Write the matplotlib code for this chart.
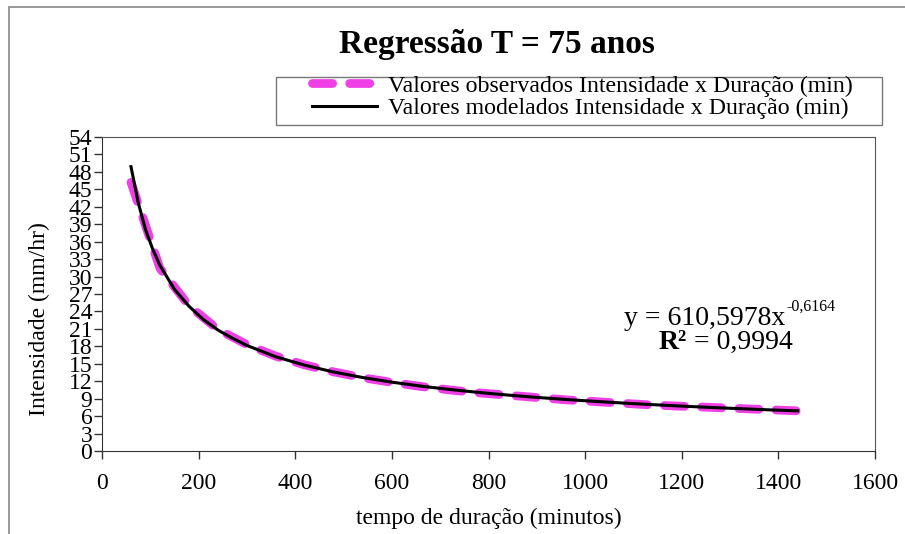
import numpy as np
import matplotlib
matplotlib.use('Agg')
from matplotlib import pyplot as plt
from matplotlib.patches import Rectangle

plt.rcParams['font.family'] = ['Liberation Serif', 'DejaVu Serif']

# durations (min) and intensities (mm/hr)
dur_obs = [60, 120, 180, 240, 300, 360, 420, 480, 540, 600, 660, 720,
           780, 840, 900, 960, 1020, 1080, 1140, 1200, 1260, 1320, 1380, 1440]
int_obs = [46.2, 31.4, 25.0, 20.9, 18.3, 16.3, 14.8, 13.6, 12.6, 11.8, 11.1, 10.5,
           10.0, 9.6, 9.2, 8.8, 8.5, 8.2, 7.9, 7.7, 7.5, 7.3, 7.1, 6.9]

dur_mod = [60, 75, 90, 105, 120, 150, 180, 210, 240, 270, 300, 360, 420, 480, 540,
           600, 660, 720, 780, 840, 900, 960, 1020, 1080, 1140, 1200, 1260, 1320,
           1380, 1440]
int_mod = [48.9, 42.7, 38.1, 34.7, 31.9, 27.8, 24.9, 22.6, 20.8, 19.4, 18.15, 16.2,
           14.75, 13.58, 12.63, 11.84, 11.16, 10.58, 10.07, 9.62, 9.22, 8.86, 8.54,
           8.24, 7.97, 7.72, 7.49, 7.28, 7.08, 6.90]

W, H = 905, 534
def fx(x, y):
    return x / W, 1 - y / H

fig = plt.figure(figsize=(W / 100, H / 100), dpi=100)
ax = fig.add_axes([102 / W, 1 - 451 / H, 773 / W, 314 / H])

ax.plot(dur_obs, int_obs, color='#ee40e4', lw=6.3, dashes=(2.3, 1.95),
        dash_capstyle='round', label='Valores observados Intensidade x Duração (min)')
ax.plot(dur_mod, int_mod, color='black', lw=2.2,
        label='Valores modelados Intensidade x Duração (min)')

ax.set_xlim(0, 1600)
ax.set_ylim(0, 54)
ax.set_xticks(np.arange(0, 1601, 200))
ax.set_yticks(np.arange(0, 55, 3))
ax.tick_params(labelsize=17, length=6, width=1, color='#333333')
ax.tick_params(axis='x', pad=10)
ax.tick_params(axis='y', pad=1)
for s in ['left', 'bottom']:
    ax.spines[s].set_color('#333333')
for s in ['top', 'right']:
    ax.spines[s].set_color('#555555')
ax.set_xlabel('tempo de duração (minutos)', fontsize=17, labelpad=10)
ax.set_ylabel('Intensidade (mm/hr)', fontsize=17)
ax.yaxis.set_label_coords(-52 / 773, 132 / 314)

fig.text(*fx(497, 45), 'Regressão T = 75 anos', fontsize=24, fontweight='bold',
         ha='center', va='center')

leg = fig.legend(loc='upper left', bbox_to_anchor=fx(312, 75), fontsize=17.2,
                 frameon=False, borderpad=0, labelspacing=0.03, handlelength=2.7,
                 handletextpad=0.5, borderaxespad=0)
fig.patches.append(Rectangle(fx(276, 125), 606 / W, 48 / H, transform=fig.transFigure,
                             fill=False, edgecolor='#777777', lw=1))

fig.text(*fx(785, 325), 'y = 610,5978x', fontsize=20, ha='right', va='baseline')
fig.text(*fx(786, 311), '-0,6164', fontsize=11.5, ha='left', va='baseline')
fig.text(*fx(687, 349), 'R²', fontsize=20, fontweight='bold', ha='right', va='baseline')
fig.text(*fx(694, 349), '= 0,9994', fontsize=20, ha='left', va='baseline')

fig.patches.append(Rectangle((9 / W, -0.5), 1, 1.5 - 7 / H, transform=fig.transFigure,
                             fill=False, edgecolor='#888888', lw=1.2))

fig.savefig('out.png', dpi=100)
